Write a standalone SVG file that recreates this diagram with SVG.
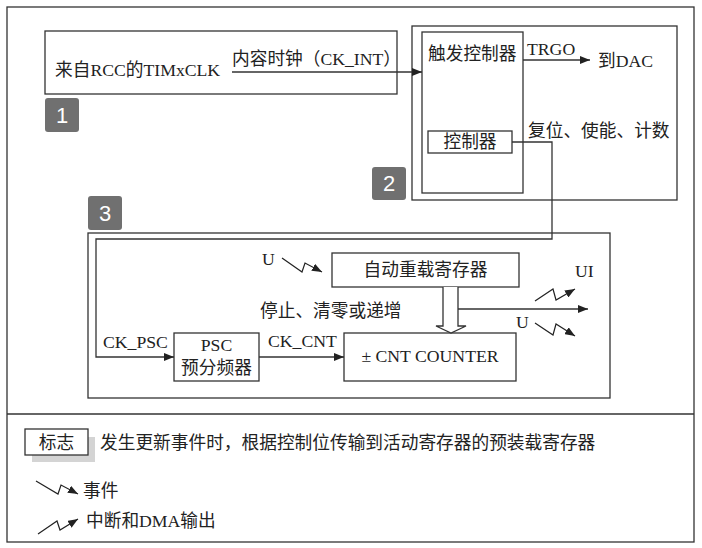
<svg xmlns="http://www.w3.org/2000/svg" width="702" height="548" viewBox="0 0 702 548">
<defs>
<style>
.t{font-family:"Liberation Serif","Noto Sans CJK SC",serif;font-size:17.7px;fill:#222}
.box{fill:#fff;stroke:#333;stroke-width:1.3}
.ln{fill:none;stroke:#333;stroke-width:1.3}
.bolt{fill:none;stroke:#222;stroke-width:1.2}
.badge{fill:#707070}
.bt{font-family:"Liberation Sans",Arial,sans-serif;font-size:22px;fill:#fff;text-anchor:middle}
</style>
<marker id="ar" viewBox="0 0 10 8" refX="10" refY="4" markerWidth="10" markerHeight="8" markerUnits="userSpaceOnUse" orient="auto">
<path d="M0,0 L10,4 L0,8 Z" fill="#222"/>
</marker>
</defs>
<rect x="0" y="0" width="702" height="548" fill="#fff"/>
<rect x="7" y="7" width="687" height="535" class="box"/>
<line x1="7" y1="414" x2="694" y2="414" class="ln"/>

<g id="n1">
<rect x="45" y="31" width="352" height="63" class="box"/>
<text x="55" y="76" class="t">来自RCC的TIMxCLK</text>
<text x="232" y="65" class="t">内容时钟（CK_INT）</text>
</g>
<g id="badge1"><rect x="45" y="98" width="34" height="34" rx="3" class="badge"/><text x="62" y="123" class="bt">1</text></g>

<g id="n2">
<rect x="412" y="26" width="265" height="174" class="box"/>
<rect x="422" y="32" width="101" height="161" class="box"/>
<text x="428" y="60" class="t">触发控制器</text>
<text x="527" y="55" class="t">TRGO</text>
<text x="598" y="67" class="t">到DAC</text>
<text x="528" y="137" class="t">复位、使能、计数</text>
</g>
<g id="ctrl">
<rect x="428" y="131" width="84" height="22" class="box"/>
<text x="470" y="148" class="t" text-anchor="middle">控制器</text>
</g>
<g id="badge2"><rect x="372" y="167" width="34" height="33" rx="3" class="badge"/><text x="389" y="191" class="bt">2</text></g>

<g id="n3">
<rect x="88" y="233" width="522" height="165" class="box"/>
<text x="103" y="348" class="t">CK_PSC</text>
<text x="268" y="347" class="t">CK_CNT</text>
<text x="262" y="265" class="t">U</text>
<text x="260" y="317" class="t">停止、清零或递增</text>
<text x="575" y="277" class="t">UI</text>
<text x="516" y="328" class="t">U</text>
</g>
<g id="badge3"><rect x="88" y="196" width="34" height="34" rx="3" class="badge"/><text x="105" y="221" class="bt">3</text></g>

<g id="arr">
<rect x="332" y="253" width="187" height="34" class="box"/>
<text x="425.500" y="276" class="t" text-anchor="middle">自动重载寄存器</text>
</g>
<g id="psc">
<rect x="174" y="333" width="85" height="48" class="box"/>
<text x="216.500" y="351" class="t" text-anchor="middle">PSC</text>
<text x="216.500" y="374" class="t" text-anchor="middle">预分频器</text>
</g>
<g id="cnt">
<rect x="344" y="333" width="172" height="48" class="box"/>
<text x="430" y="362" class="t" text-anchor="middle">± CNT COUNTER</text>
</g>

<g id="connectors">
<line x1="232" y1="72" x2="422" y2="72" class="ln" marker-end="url(#ar)"/>
<line x1="523" y1="60" x2="590" y2="60" class="ln" marker-end="url(#ar)"/>
<polyline points="512,142 552,142 552,239 96,239 96,357 174,357" class="ln" marker-end="url(#ar)"/>
<line x1="259" y1="357" x2="344" y2="357" class="ln" marker-end="url(#ar)"/>
<path d="M443,287 L443,326 L436,326 L451,333 L466,326 L458,326 L458,287" fill="#fff" stroke="#333" stroke-width="1.3"/>
<line x1="458" y1="309" x2="588" y2="309" class="ln" marker-end="url(#ar)"/>
<polyline points="282,258 302,272 305,263 322,272" class="bolt" marker-end="url(#ar)"/>
<polyline points="535,301 553,289 556,300 575,289" class="bolt" marker-end="url(#ar)"/>
<polyline points="535,323 553,335 556,324 575,336" class="bolt" marker-end="url(#ar)"/>
</g>

<g id="legend">
<rect x="32" y="437" width="63" height="25" fill="#d4d4d4"/>
<rect x="25" y="429" width="63" height="26" class="box"/>
<text x="56.500" y="449" class="t" text-anchor="middle">标志</text>
<text x="100" y="449" class="t">发生更新事件时，根据控制位传输到活动寄存器的预装载寄存器</text>
<polyline points="36,481 58,494 61,485 78,494" class="bolt" marker-end="url(#ar)"/>
<text x="83" y="497" class="t">事件</text>
<polyline points="38,534 57,521 60,530 78,519" class="bolt" marker-end="url(#ar)"/>
<text x="86" y="527" class="t">中断和DMA输出</text>
</g>
</svg>
